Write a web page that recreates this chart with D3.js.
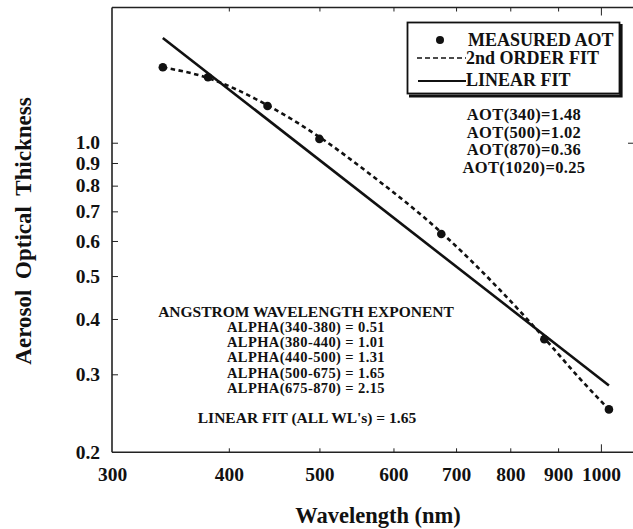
<!DOCTYPE html>
<html>
<head>
<meta charset="utf-8">
<script src="https://cdn.jsdelivr.net/npm/d3@7"></script>
<style>
  html, body { margin: 0; padding: 0; background: #fff; }
  svg { display: block; }
  text { font-family: "Liberation Serif", "Times New Roman", serif; font-weight: bold; fill: #111; }
</style>
</head>
<body>
<svg id="chart" width="633" height="529"></svg>
<script>
// ---- data ----
const wavelengths = [340, 380, 440, 500, 675, 870, 1020];
const measuredAOT = [1.48, 1.405, 1.21, 1.02, 0.622, 0.36, 0.25];

const fit2Wavelengths = [340, 380, 440, 500, 566, 675, 780, 870, 950, 1020];
const fit2AOT = [1.48, 1.40, 1.215, 1.03, 0.85, 0.627, 0.465, 0.362, 0.293, 0.25];

const linearFitWavelengths = [340, 1020];
const linearFitAOT = [1.724, 0.283];

const xTicks = [300, 400, 500, 600, 700, 800, 900, 1000];
const yTicks = [0.2, 0.3, 0.4, 0.5, 0.6, 0.7, 0.8, 0.9, 1.0];

const legendLabels = ["MEASURED AOT", "2nd ORDER FIT", "LINEAR FIT"];
const aotLabels = ["AOT(340)=1.48", "AOT(500)=1.02", "AOT(870)=0.36", "AOT(1020)=0.25"];
const alphaTitle = "ANGSTROM WAVELENGTH EXPONENT";
const alphaLabels = ["ALPHA(340-380) = 0.51", "ALPHA(380-440) = 1.01", "ALPHA(440-500) = 1.31",
                     "ALPHA(500-675) = 1.65", "ALPHA(675-870) = 2.15"];
const linearFitLabel = "LINEAR FIT (ALL WL's) = 1.65";

// ---- layout ----
const svg = d3.select("#chart");
const plotLeft = 112, plotRight = 634, plotTop = 7.5, plotBottom = 452.3;

const x = d3.scaleLog().domain([300, 1000]).range([plotLeft, plotLeft + 935 * Math.log10(1000 / 300)]);
const y = d3.scaleLog().domain([0.2, 2.0]).range([plotBottom, plotBottom - 442.9]);

// frame
const frame = svg.append("g").attr("stroke", "#222").attr("fill", "none");
frame.append("line").attr("x1", plotLeft).attr("x2", plotLeft).attr("y1", plotTop).attr("y2", plotBottom).attr("stroke-width", 1.6);
frame.append("line").attr("x1", plotLeft).attr("x2", plotRight).attr("y1", plotTop).attr("y2", plotTop).attr("stroke-width", 1.6);
frame.append("line").attr("x1", plotLeft).attr("x2", plotRight).attr("y1", plotBottom).attr("y2", plotBottom).attr("stroke-width", 1.6);

// bottom axis
const xAxis = d3.axisBottom(x).tickValues(xTicks).tickFormat(d3.format("d"))
  .tickSizeInner(-4).tickSizeOuter(0).tickPadding(15);
const gx = svg.append("g").attr("transform", `translate(0,${plotBottom})`).call(xAxis);
gx.select(".domain").remove();
gx.selectAll(".tick line").attr("stroke", "#222").attr("stroke-width", 1)
  .attr("y2", d => d === 1000 ? -8 : (d === 300 ? 0 : -4));
gx.selectAll(".tick text").attr("font-size", 19.5).attr("fill", "#111")
  .style("font-family", '"Liberation Serif", serif').style("font-weight", "bold");

// top axis ticks
const xTop = d3.axisTop(x).tickValues(xTicks.filter(d => d !== 300)).tickFormat("")
  .tickSizeInner(-4).tickSizeOuter(0);
const gxt = svg.append("g").attr("transform", `translate(0,${plotTop})`).call(xTop);
gxt.select(".domain").remove();
gxt.selectAll(".tick line").attr("stroke", "#222").attr("y2", d => d === 1000 ? 8 : 4);

// left axis
const yAxis = d3.axisLeft(y).tickValues(yTicks).tickFormat(d3.format(".1f"))
  .tickSizeInner(-6).tickSizeOuter(0).tickPadding(12);
const gy = svg.append("g").attr("transform", `translate(${plotLeft},0)`).call(yAxis);
gy.select(".domain").remove();
gy.selectAll(".tick line").attr("stroke", "#222").attr("stroke-width", 1)
  .attr("x2", d => d === 0.2 ? 0 : 6);
gy.selectAll(".tick text").attr("font-size", 19.5).attr("fill", "#111")
  .style("font-family", '"Liberation Serif", serif').style("font-weight", "bold");

// right axis (only the 1.0 tick is visible at the edge)
const yRight = d3.axisRight(y).tickValues([1.0]).tickFormat("").tickSizeInner(-6).tickSizeOuter(0);
const gyr = svg.append("g").attr("transform", `translate(${plotRight},0)`).call(yRight);
gyr.select(".domain").remove();
gyr.selectAll(".tick line").attr("stroke", "#222");

// axis titles
svg.append("text").attr("x", 378).attr("y", 523).attr("text-anchor", "middle")
  .attr("font-size", 22.5).text("Wavelength (nm)");
svg.append("text").attr("transform", "translate(31,231) rotate(-90)").attr("text-anchor", "middle")
  .attr("font-size", 23).attr("word-spacing", 5).text("Aerosol Optical Thickness");

// linear fit
const linData = linearFitWavelengths.map((w, i) => [w, linearFitAOT[i]]);
svg.append("path").datum(linData)
  .attr("d", d3.line().x(d => x(d[0])).y(d => y(d[1])))
  .attr("fill", "none").attr("stroke", "#111").attr("stroke-width", 2.6);

// 2nd order fit
const fitData = fit2Wavelengths.map((w, i) => [w, fit2AOT[i]]);
svg.append("path").datum(fitData)
  .attr("d", d3.line().x(d => x(d[0])).y(d => y(d[1])).curve(d3.curveMonotoneX))
  .attr("fill", "none").attr("stroke", "#111").attr("stroke-width", 2.6)
  .attr("stroke-dasharray", "4.5,3.5");

// measured points
svg.append("g").selectAll("circle").data(wavelengths.map((w, i) => [w, measuredAOT[i]]))
  .join("circle").attr("cx", d => x(d[0])).attr("cy", d => y(d[1])).attr("r", 4.3).attr("fill", "#111");

// legend
const lg = svg.append("g");
lg.append("rect").attr("x", 407.5).attr("y", 22.5).attr("width", 212).attr("height", 71)
  .attr("fill", "#fff").attr("stroke", "#111").attr("stroke-width", 1.8);
lg.append("path").attr("d", "M621,24 L621,96 L409,96").attr("fill", "none")
  .attr("stroke", "#111").attr("stroke-width", 3.2);
lg.append("circle").attr("cx", 440).attr("cy", 40).attr("r", 4).attr("fill", "#111");
lg.append("line").attr("x1", 417).attr("x2", 466).attr("y1", 58).attr("y2", 58)
  .attr("stroke", "#111").attr("stroke-width", 1.6).attr("stroke-dasharray", "5,3");
lg.append("line").attr("x1", 418).attr("x2", 466).attr("y1", 81).attr("y2", 81)
  .attr("stroke", "#111").attr("stroke-width", 1.8);
const legendBaselines = [46, 64, 86];
lg.selectAll("text.leg").data(legendLabels).join("text").attr("class", "leg")
  .attr("x", (d, i) => i === 0 ? 468 : 466).attr("y", (d, i) => legendBaselines[i])
  .attr("font-size", 18).text(d => d);

// AOT labels
svg.append("g").selectAll("text").data(aotLabels).join("text")
  .attr("x", 524).attr("y", (d, i) => 120 + i * 17.6).attr("text-anchor", "middle")
  .attr("font-size", 16.5).attr("letter-spacing", 0.35).text(d => d);

// Angstrom block
svg.append("text").attr("x", 306).attr("y", 317).attr("text-anchor", "middle")
  .attr("font-size", 15.5).text(alphaTitle);
svg.append("g").selectAll("text").data(alphaLabels).join("text")
  .attr("x", 306).attr("y", (d, i) => 332 + i * 15.2).attr("text-anchor", "middle")
  .attr("font-size", 14.5).attr("letter-spacing", 0.4).text(d => d);
svg.append("text").attr("x", 307).attr("y", 423).attr("text-anchor", "middle")
  .attr("font-size", 15.5).text(linearFitLabel);
</script>
</body>
</html>
